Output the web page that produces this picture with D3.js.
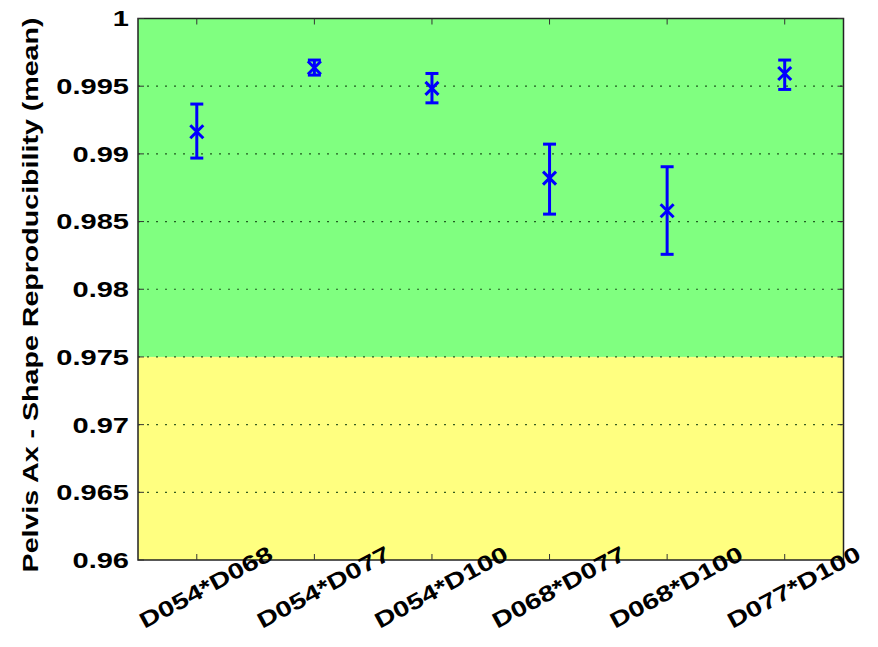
<!DOCTYPE html>
<html><head><meta charset="utf-8">
<script src="https://cdn.jsdelivr.net/npm/d3@7"></script>
<style>body{margin:0;background:#fff}svg{display:block}</style>
</head><body><svg id="c" width="878" height="647"></svg>
<script>
// ---- data ----
const categories = ["D054*D068","D054*D077","D054*D100","D068*D077","D068*D100","D077*D100"];
const means = [0.99163, 0.99636, 0.99484, 0.98821, 0.98580, 0.99594];
const upper = [0.99368, 0.99693, 0.99594, 0.99072, 0.98905, 0.99693];
const lower = [0.98969, 0.99582, 0.99377, 0.98555, 0.98258, 0.99476];
const yTicks = [0.96, 0.965, 0.97, 0.975, 0.98, 0.985, 0.99, 0.995, 1];
const yTickLabels = ["0.96","0.965","0.97","0.975","0.98","0.985","0.99","0.995","1"];
const greenBand = [0.975, 1];
const yellowBand = [0.96, 0.975];
const yTitle = "Pelvis Ax - Shape Reproducibility (mean)";

// ---- layout ----
const L = 138, R = 843.5, T = 18.5, B = 560;
const FONT = "'Liberation Sans', Arial, Helvetica, sans-serif";
const FS = 22;
const svg = d3.select("#c");
const x = d3.scalePoint().domain(categories).range([L, R]).padding(0.5);
const y = d3.scaleLinear().domain([0.96, 1]).range([B, T]);

// bands
svg.append("rect").attr("x", L).attr("width", R - L)
  .attr("y", y(greenBand[1])).attr("height", y(greenBand[0]) - y(greenBand[1]))
  .attr("fill", "#80ff80");
svg.append("rect").attr("x", L).attr("width", R - L)
  .attr("y", y(yellowBand[1])).attr("height", y(yellowBand[0]) - y(yellowBand[1]))
  .attr("fill", "#ffff80");

// grid lines
svg.append("g").selectAll("line").data(yTicks.filter(d => d > 0.96)).join("line")
  .attr("x1", L).attr("x2", R).attr("y1", d => y(d)).attr("y2", d => y(d))
  .attr("stroke", "#0f3f0f").attr("stroke-opacity", 0.85).attr("stroke-width", 1.2)
  .attr("stroke-dasharray", "2,7");

// frame
svg.append("rect").attr("x", L).attr("y", T).attr("width", R - L).attr("height", B - T)
  .attr("fill", "none").attr("stroke", "#222").attr("stroke-width", 1.5);

// tick marks
const tk = svg.append("g").attr("stroke", "#333").attr("stroke-width", 1);
categories.forEach(c => {
  tk.append("line").attr("x1", x(c)).attr("x2", x(c)).attr("y1", B).attr("y2", B - 6);
  tk.append("line").attr("x1", x(c)).attr("x2", x(c)).attr("y1", T).attr("y2", T + 6);
});
yTicks.forEach(v => {
  tk.append("line").attr("x1", L).attr("x2", L + 6).attr("y1", y(v)).attr("y2", y(v));
  tk.append("line").attr("x1", R).attr("x2", R - 6).attr("y1", y(v)).attr("y2", y(v));
});

// y tick labels
svg.append("g").selectAll("text").data(yTicks).join("text")
  .attr("transform", d => `translate(${L - 9},${y(d)}) scale(1.32,1)`)
  .attr("text-anchor", "end").attr("dy", "0.36em")
  .attr("font-family", FONT).attr("font-weight", "bold").attr("font-size", FS)
  .attr("fill", "#000")
  .text((d, i) => yTickLabels[i]);

// x tick labels
svg.append("g").selectAll("text").data(categories).join("text")
  .attr("transform", d => `translate(${x(d) + 9},${587}) rotate(-28.5) scale(1.3,1)`)
  .attr("text-anchor", "middle").attr("dominant-baseline", "central")
  .attr("font-family", FONT).attr("font-weight", "bold").attr("font-size", FS)
  .attr("fill", "#000")
  .text(d => d);

// y title
svg.append("text")
  .attr("transform", `translate(38,295) rotate(-90) scale(1.3,1)`)
  .attr("text-anchor", "middle")
  .attr("font-family", FONT).attr("font-weight", "bold").attr("font-size", FS)
  .attr("fill", "#000")
  .text(yTitle);

// error bars
const eb = svg.append("g").attr("stroke", "#0000ff").attr("stroke-width", 3).attr("fill", "none");
categories.forEach((c, i) => {
  const cx = x(c);
  eb.append("line").attr("x1", cx).attr("x2", cx).attr("y1", y(lower[i])).attr("y2", y(upper[i]));
  eb.append("line").attr("x1", cx - 6.5).attr("x2", cx + 6.5).attr("y1", y(lower[i])).attr("y2", y(lower[i]));
  eb.append("line").attr("x1", cx - 6.5).attr("x2", cx + 6.5).attr("y1", y(upper[i])).attr("y2", y(upper[i]));
  const cy = y(means[i]), s = 6.5;
  eb.append("path").attr("d", `M${cx - s},${cy - s}L${cx + s},${cy + s}M${cx - s},${cy + s}L${cx + s},${cy - s}`);
});
</script>
</body></html>
